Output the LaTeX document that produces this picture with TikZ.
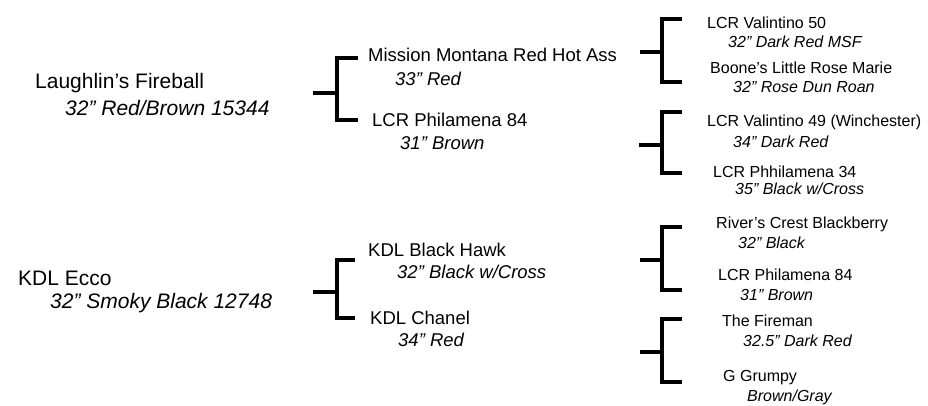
\documentclass[tikz,border=0pt]{standalone}
\usepackage{fontspec}
\setmainfont{Liberation Sans}
\begin{document}
\begin{tikzpicture}[x=1pt,y=-1pt,
  br/.style={line width=4pt,line join=miter,line cap=butt},
  nmA/.style={anchor=west,inner sep=0pt,font=\fontsize{21}{24}\selectfont},
  inA/.style={anchor=west,inner sep=0pt,font=\fontsize{21}{24}\selectfont\itshape},
  nmB/.style={anchor=west,inner sep=0pt,font=\fontsize{18.5}{22}\selectfont},
  inB/.style={anchor=west,inner sep=0pt,font=\fontsize{18.5}{22}\selectfont\itshape},
  nmC/.style={anchor=west,inner sep=0pt,font=\fontsize{16}{19}\selectfont},
  inC/.style={anchor=west,inner sep=0pt,font=\fontsize{16}{19}\selectfont\itshape}]
\useasboundingbox (0,0) rectangle (928,405);
\newcommand{\pbracket}[7]{%
  \coordinate (#1s) at (#2,#6);
  \coordinate (#1m) at (#3,#6);
  \coordinate (#1t) at (#4,#5);
  \coordinate (#1b) at (#4,#7);
  \draw[br] (#1t) -- (#3,#5) -- (#3,#7) -- (#1b);
  \draw[br] (#1s) -- (#1m);
}
% left column
\node[nmA] (lf) at (35,83) {Laughlin’s Fireball};
\node[inA] (lfi) at (65,108) {32” Red/Brown 15344};
\node[nmA] (ke) at (18,278) {KDL Ecco};
\node[inA] (kei) at (50,303) {32” Smoky Black 12748};
% middle brackets
\pbracket{b1}{313}{337}{358}{58}{93}{120}
\pbracket{b2}{313}{337}{355}{260}{292}{318}
% middle column
\node[nmB] (mm) at (368,55) {Mission Montana Red Hot Ass};
\node[inB] (mmi) at (395,79) {33” Red};
\node[nmB] (lp) at (372,120) {LCR Philamena 84};
\node[inB] (lpi) at (400,143) {31” Brown};
\node[nmB] (bh) at (368,250) {KDL Black Hawk};
\node[inB] (bhi) at (397,272) {32” Black w/Cross};
\node[nmB] (kc) at (370,318) {KDL Chanel};
\node[inB] (kci) at (398,340) {34” Red};
% right brackets
\pbracket{b3}{640}{662}{682}{19}{52}{82}
\pbracket{b4}{639}{662}{682}{112}{145}{173}
\pbracket{b5}{640}{662}{682}{227}{260}{290}
\pbracket{b6}{640}{662}{682}{319}{352}{382}
% right column
\node[nmC] (v50) at (707,23) {LCR Valintino 50};
\node[inC] (v50i) at (728,42) {32” Dark Red MSF};
\node[nmC] (brm) at (710,68) {Boone’s Little Rose Marie};
\node[inC] (brmi) at (733,87) {32” Rose Dun Roan};
\node[nmC] (v49) at (707,122) {LCR Valintino 49 (Winchester)};
\node[inC] (v49i) at (733,142) {34” Dark Red};
\node[nmC] (p34) at (713,172) {LCR Phhilamena 34};
\node[inC] (p34i) at (735,189) {35” Black w/Cross};
\node[nmC] (rcb) at (716,224) {River’s Crest Blackberry};
\node[inC] (rcbi) at (738,243) {32” Black};
\node[nmC] (p84) at (718,275) {LCR Philamena 84};
\node[inC] (p84i) at (740,295) {31” Brown};
\node[nmC] (tf) at (722,321) {The Fireman};
\node[inC] (tfi) at (743,341) {32.5” Dark Red};
\node[nmC] (gg) at (723,378) {G Grumpy};
\node[inC] (ggi) at (747,397) {Brown/Gray};
\end{tikzpicture}
\end{document}
